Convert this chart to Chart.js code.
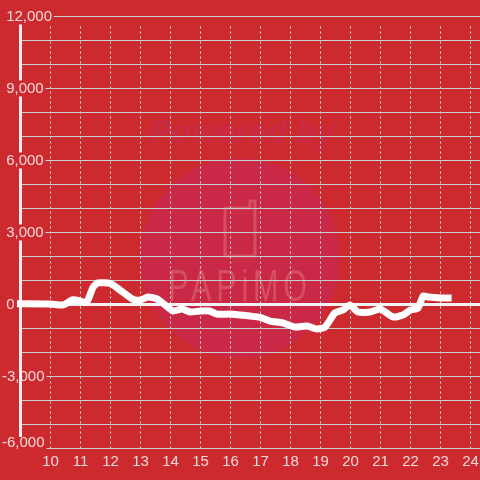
<!DOCTYPE html>
<html><head><meta charset="utf-8">
<style>html,body{margin:0;padding:0;background:#cc2a2e}canvas{display:block}</style>
<script src="https://cdn.jsdelivr.net/npm/chart.js@4"></script></head>
<body><div style="width:480px;height:480px"><canvas id="c" width="480" height="480"></canvas></div>
<script>
const hours=[8.88,10,10.4,10.55,10.72,10.92,11.15,11.25,11.42,11.58,12,12.32,12.75,13,13.25,13.55,13.82,14.08,14.38,14.65,15,15.3,15.55,16,16.32,16.65,17,17.32,17.75,18.15,18.55,18.88,19.15,19.48,19.75,19.98,20.25,20.65,21,21.42,21.75,22,22.25,22.42,22.6,23,23.37];
const balance=[30,20,-20,60,190,170,80,190,720,900,875,600,210,190,310,230,-20,-270,-190,-310,-270,-270,-400,-400,-440,-480,-540,-690,-770,-940,-900,-1020,-940,-350,-230,-20,-310,-310,-190,-520,-440,-230,-150,350,310,270,270];
const yLabelled=[12000,9000,6000,3000,0,-3000,-6000];
const yMasked=[12000,9000,6000,3000,-6000];
const xLabels=[10,11,12,13,14,15,16,17,18,19,20,21,22,23,24];
const BG='#cc2a2e';
const pts=hours.map((h,i)=>({x:h,y:balance[i]}));

const backdrop={id:'backdrop',beforeDraw(ch){
  const c=ch.ctx;c.save();
  c.fillStyle=BG;c.fillRect(0,0,480,480);
  c.fillStyle='#c92846';c.beginPath();c.arc(240,258,100,0,Math.PI*2);c.fill();
  c.textAlign='center';c.textBaseline='middle';
  c.font='italic bold 33px "Liberation Sans"';c.fillStyle='#c92a44';
  c.fillText('Powered by',242,134);
  c.save();c.translate(240,289);c.scale(0.68,1);
  c.font='45px "Liberation Sans"';c.fillStyle='#d64f5c';c.letterSpacing='7px';
  c.fillText('PAPiMO',0,0);c.restore();
  c.strokeStyle='#d64f5c';c.lineWidth=3;c.lineJoin='round';
  c.beginPath();c.moveTo(250,208);c.lineTo(225,208);c.lineTo(225,256);c.lineTo(255,256);c.lineTo(255,201);c.lineTo(250,201);c.lineTo(250,208);c.stroke();
  c.restore();
}};
const masks={id:'masks',beforeDatasetsDraw(ch){
  const c=ch.ctx,y=ch.scales.y;c.save();c.fillStyle=BG;
  c.fillRect(23,17,457,7);
  c.font='15px "Liberation Sans"';
  yLabelled.forEach(v=>{
    if(v===0)return;
    const p=y.getPixelForValue(v),w=c.measureText(v.toLocaleString('en-US')).width;
    const masked=yMasked.includes(v);
    const x0=masked?0:22.5;
    const top=masked?(v===-6000?p-11.5:p-8):p-1;
    const h=masked?(v===-6000?13:16):2;
    c.fillRect(x0,top,(v<0?2:6)+w+2-x0,h);
  });
  c.restore();
}};
new Chart(document.getElementById('c'),{
  type:'line',
  data:{datasets:[{data:pts,borderColor:'#ffffff',borderWidth:7,pointRadius:0,tension:0.2,clip:false,borderCapStyle:'butt',borderJoinStyle:'round'}]},
  plugins:[backdrop,masks],
  options:{
    responsive:false,animation:false,devicePixelRatio:1,
    layout:{padding:{left:20.5,top:16.5,right:0,bottom:0}},
    plugins:{legend:{display:false},tooltip:{enabled:false},title:{display:false}},
    scales:{
      x:{type:'linear',min:9,max:24.3167,
        afterFit(s){s.height=31.5;s.paddingLeft=0;s.paddingRight=0;},
        afterBuildTicks(s){s.ticks=xLabels.map(v=>({value:v}));},
        grid:{color:'#e6e6e6',lineWidth:1,tickLength:0,drawTicks:false},
        border:{display:false,dash:[2,3]},
        ticks:{autoSkip:false,maxRotation:0,padding:4,color:'rgba(255,255,255,.82)',font:{family:'"Liberation Sans"',size:15},callback:v=>String(v)}},
      y:{type:'linear',min:-6000,max:12000,
        afterFit(s){s.width=0;s.paddingTop=0;s.paddingBottom=0;},
        afterBuildTicks(s){s.ticks=[];for(let v=12000;v>=-6000;v-=1000)s.ticks.push({value:v});},
        border:{display:true,color:'#f0f0f0',width:3},
        grid:{drawTicks:false,tickLength:0,
          color:c=>c.tick&&c.tick.value===0?'#f2f2f2':'#c9cfcf',
          lineWidth:c=>c.tick&&c.tick.value===0?3:1},
        ticks:{autoSkip:false,mirror:true,padding:-18.5,z:1,color:'rgba(255,255,255,.82)',
          font:c=>({family:'"Liberation Sans"',size:15,lineHeight:c.tick&&c.tick.value===-6000?'12px':1.2}),
          callback(v){
            if(!yLabelled.includes(v))return '';
            const t=v.toLocaleString('en-US');
            if(v===-6000)return [t,''];
            return v<0?t:' '+t;
          }}}
    }
  }
});
</script></body></html>
